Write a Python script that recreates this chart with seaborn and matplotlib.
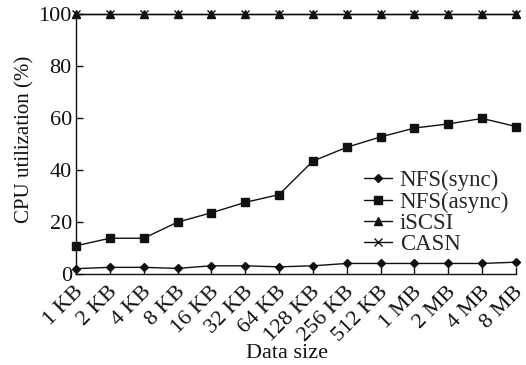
import matplotlib
matplotlib.use("Agg")
import matplotlib.pyplot as plt
import matplotlib.transforms as mtransforms
import numpy as np
import pandas as pd
import seaborn as sns

sizes = ["1 KB", "2 KB", "4 KB", "8 KB", "16 KB", "32 KB", "64 KB", "128 KB",
         "256 KB", "512 KB", "1 MB", "2 MB", "4 MB", "8 MB"]
nfs_sync = [2.1, 2.6, 2.6, 2.2, 3.2, 3.2, 2.8, 3.2, 4.1, 4.1, 4.1, 4.1, 4.1, 4.6]
nfs_async = [10.9, 13.8, 13.8, 20.0, 23.6, 27.6, 30.6, 43.5, 48.8, 52.8, 56.2, 57.8, 59.9, 56.8]
iscsi = [100] * 14
casn = [100] * 14
series = ["NFS(sync)", "NFS(async)", "iSCSI", "CASN"]

sns.set_theme(style="ticks")
plt.rcParams["font.family"] = ["Liberation Serif", "DejaVu Serif"]

frames = []
for name, vals in zip(series, [nfs_sync, nfs_async, iscsi, casn]):
    frames.append(pd.DataFrame({"pos": np.arange(len(sizes)), "util": vals,
                                "series": name}))
df = pd.concat(frames, ignore_index=True)

fig = plt.figure(figsize=(5.26, 3.65), dpi=100)
ax = fig.add_axes([0.1445, 0.249, 0.8365, 0.712])

markers = {"NFS(sync)": "D", "NFS(async)": "s", "iSCSI": "^", "CASN": "x"}
sizes_m = {"NFS(sync)": 4.5, "NFS(async)": 5.5, "iSCSI": 6, "CASN": 6}
for name in series:
    sub = df[df["series"] == name]
    sns.lineplot(data=sub, x="pos", y="util", ax=ax, color="#111111",
                 marker=markers[name], markersize=sizes_m[name], linewidth=1.0,
                 markeredgecolor="#111111", markeredgewidth=1.0,
                 label=name, clip_on=False, sort=False)

ax.set_xlim(0, len(sizes) - 1)
ax.set_ylim(0, 100)
ax.set_yticks([0, 20, 40, 60, 80, 100])
ax.set_xticks(np.arange(len(sizes)))
ax.set_xticklabels(sizes, rotation=45, ha="right", rotation_mode="anchor")
ax.tick_params(axis="both", direction="in", length=5, width=1, labelsize=16,
               colors="#111111", pad=3)
ax.tick_params(axis="x", pad=6)
shift = mtransforms.ScaledTranslation(-1.5 / 72, 0, fig.dpi_scale_trans)
for lbl in ax.get_xticklabels():
    lbl.set_transform(lbl.get_transform() + shift)
sns.despine(ax=ax)
for s in ["left", "bottom"]:
    ax.spines[s].set_color("#111111")
    ax.spines[s].set_linewidth(1.0)

ax.set_xlabel("Data size", fontsize=16, color="#111111")
ax.set_ylabel("CPU utilization (%)", fontsize=15, color="#111111")
ax.xaxis.set_label_coords(0.48, -0.27)
ax.yaxis.set_label_coords(-0.094, 0.52)

ax.legend(loc="upper left", bbox_to_anchor=(0.655, 0.40), frameon=False,
          fontsize=16.5, handlelength=1.2, handletextpad=0.35, labelspacing=0.0,
          borderaxespad=0, borderpad=0)

fig.savefig("out.png", dpi=100)
